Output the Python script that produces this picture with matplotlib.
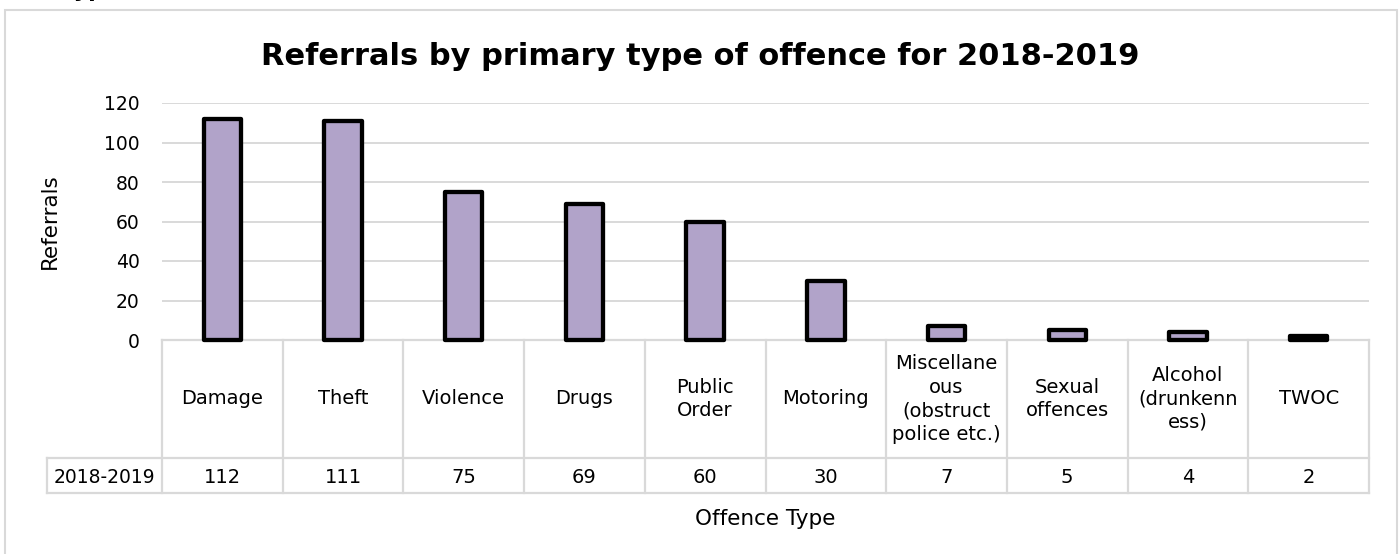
import matplotlib
matplotlib.use('Agg')
import matplotlib.pyplot as plt
import matplotlib.transforms as mtransforms
from matplotlib.patches import Rectangle

# ---- data ----
categories = ["Damage", "Theft", "Violence", "Drugs", "Public\nOrder", "Motoring",
              "Miscellane\nous\n(obstruct\npolice etc.)", "Sexual\noffences",
              "Alcohol\n(drunkenn\ness)", "TWOC"]
series_name = "2018-2019"
values = [112, 111, 75, 69, 60, 30, 7, 5, 4, 2]
yticks = [0, 20, 40, 60, 80, 100, 120]
title = "Referrals by primary type of offence for 2018-2019"
ylabel = "Referrals"
xlabel = "Offence Type"

# ---- layout (pixels) ----
W, H = 1400, 554
L, R, T, B = 162, 1369, 103, 340
ROW1, ROW2, HEAD_L = 458, 493, 47
GRID = '#D9D9D9'
FONT = 'DejaVu Sans'
plt.rcParams['font.family'] = FONT

fig = plt.figure(figsize=(W / 100, H / 100), dpi=100)
fig.patch.set_facecolor('white')
ax = fig.add_axes([L / W, 1 - B / H, (R - L) / W, (B - T) / H])

n = len(categories)
xs = list(range(n))
ax.bar(xs, values, width=0.31, color='#B1A3C9', edgecolor='black', linewidth=3.1,
       joinstyle='round', clip_on=False, zorder=3)
ax.set_xlim(-0.5, n - 0.5)
ax.set_ylim(0, 120)
ax.set_yticks(yticks)
ax.set_xticks([])
ax.grid(axis='y', color=GRID, linewidth=1.4)
ax.set_axisbelow(True)
for s in ax.spines.values():
    s.set_visible(False)
ax.tick_params(axis='y', length=0, pad=16, labelsize=13.5, labelcolor='black')

# ---- data table ----
trans = mtransforms.blended_transform_factory(ax.transData, ax.transAxes)
h = B - T
px = (R - L) / n
y1 = (B - ROW1) / h
y2 = (B - ROW2) / h
xh = -0.5 - (L - HEAD_L) / px
lk = dict(color=GRID, linewidth=1.6, clip_on=False, transform=trans, zorder=1,
          solid_capstyle='projecting')
ax.plot([-0.5, n - 0.5], [0, 0], **lk)
ax.plot([xh, n - 0.5], [y1, y1], **lk)
ax.plot([xh, n - 0.5], [y2, y2], **lk)
ax.plot([xh, xh], [y1, y2], **lk)
for b in range(n + 1):
    ax.plot([b - 0.5, b - 0.5], [0, y2], **lk)
for i, (c, v) in enumerate(zip(categories, values)):
    ax.text(i, y1 / 2, c, ha='center', va='center', fontsize=14,
            transform=trans, linespacing=1.3)
    ax.text(i, (y1 + y2) / 2, str(v), ha='center', va='center_baseline',
            fontsize=14, transform=trans)
ax.text((xh - 0.5) / 2, (y1 + y2) / 2, series_name, ha='center',
        va='center_baseline', fontsize=13.5, transform=trans)

# ---- texts ----
fig.text(700 / W, 1 - 65 / H, title, ha='center', va='baseline', fontsize=22,
         fontweight='bold')
fig.text(50 / W, 1 - 221.5 / H, ylabel, rotation=90, ha='center', va='center',
         fontsize=15.5)
fig.text(765 / W, 1 - 525 / H, xlabel, ha='center', va='baseline', fontsize=15.5)
fig.text(62 / W, 1 + 3 / H, "Type", ha='left', va='baseline', fontsize=16,
         fontweight='bold')

# ---- outer chart border ----
fig.patches.append(Rectangle((5 / W, -0.05), (1397 - 5) / W, 1.05 - 10 / H,
                             transform=fig.transFigure, fill=False,
                             edgecolor=GRID, linewidth=1.5))

fig.savefig('out.png', dpi=100, facecolor='white')
